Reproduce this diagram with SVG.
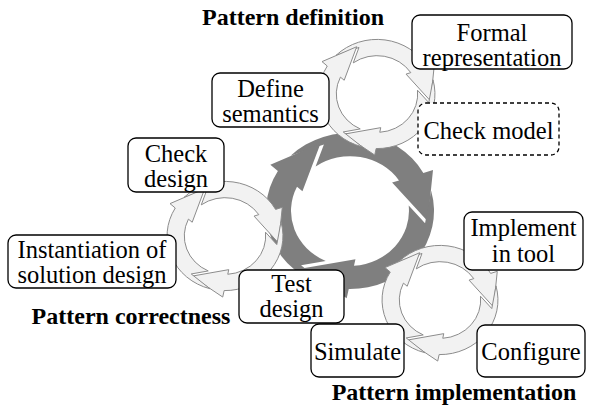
<svg xmlns="http://www.w3.org/2000/svg" width="593" height="410" viewBox="0 0 593 410">
<style>
.box{fill:#fff;stroke:#000;stroke-width:1.3}
.dash{stroke-dasharray:4 3}
.lbl{font-family:"Liberation Serif","Times New Roman",serif;font-size:24.5px;fill:#000;text-anchor:middle}
.ttl{font-family:"Liberation Serif","Times New Roman",serif;font-size:24px;font-weight:bold;fill:#000;text-anchor:middle}
.big{fill:#7f7f7f}
.small{fill:#f2f2f2;stroke:#8c8c8c;stroke-width:1}
</style>
<defs>
<path id="arr" vector-effect="non-scaling-stroke" d="M -59.4 -59.4 A 84 84 0 0 1 73.35 -40.9 L 83 -44.1 L 77.7 10.9 L 42.1 -30.6 L 49 -32.9 A 59 59 0 0 0 -34.4 -47.9 L -26.1 -71.6 Z"/>
</defs>
<rect width="593" height="410" fill="#fff"/>
<g id="connectors">
<g id="cycle-main" class="big" transform="translate(350,211) scale(1,0.93)">
<use href="#arr"/><use href="#arr" transform="rotate(120)"/><use href="#arr" transform="rotate(240)"/>
</g>
<g id="cycle-definition" class="small" transform="translate(377,94) scale(0.69,0.65)">
<use href="#arr"/><use href="#arr" transform="rotate(120)"/><use href="#arr" transform="rotate(240)"/>
</g>
<g id="cycle-correctness" class="small" transform="translate(225,236) scale(0.69,0.65)">
<use href="#arr"/><use href="#arr" transform="rotate(120)"/><use href="#arr" transform="rotate(240)"/>
</g>
<g id="cycle-implementation" class="small" transform="translate(440,300) scale(0.69,0.65)">
<use href="#arr"/><use href="#arr" transform="rotate(120)"/><use href="#arr" transform="rotate(240)"/>
</g>
</g>
<g id="title-definition"><text class="ttl" x="293" y="25">Pattern definition</text></g>
<g id="title-correctness"><text class="ttl" x="131" y="324">Pattern correctness</text></g>
<g id="title-implementation"><text class="ttl" x="454" y="400">Pattern implementation</text></g>
<g id="n-formal"><rect class="box" x="412" y="15" width="160" height="54" rx="8"/><text class="lbl" x="492" y="41">Formal</text><text class="lbl" x="492" y="66">representation</text></g>
<g id="n-define"><rect class="box" x="212" y="73" width="117" height="54" rx="8"/><text class="lbl" x="270.5" y="97">Define</text><text class="lbl" x="270.5" y="122">semantics</text></g>
<g id="n-checkmodel"><rect class="box dash" x="418" y="103" width="141" height="52" rx="8"/><text class="lbl" x="488.5" y="139">Check model</text></g>
<g id="n-checkdesign"><rect class="box" x="128" y="138" width="96" height="54" rx="8"/><text class="lbl" x="176" y="162">Check</text><text class="lbl" x="176" y="187">design</text></g>
<g id="n-instantiation"><rect class="box" x="8" y="235" width="168" height="53" rx="8"/><text class="lbl" x="92" y="258">Instantiation of</text><text class="lbl" x="92" y="283">solution design</text></g>
<g id="n-test"><rect class="box" x="239" y="270" width="105" height="53" rx="8"/><text class="lbl" x="291.5" y="292">Test</text><text class="lbl" x="291.5" y="317">design</text></g>
<g id="n-implement"><rect class="box" x="464" y="212" width="119" height="58" rx="8"/><text class="lbl" x="523.5" y="236">Implement</text><text class="lbl" x="523.5" y="262">in tool</text></g>
<g id="n-simulate"><rect class="box" x="311" y="324" width="93" height="53" rx="8"/><text class="lbl" x="357.5" y="360">Simulate</text></g>
<g id="n-configure"><rect class="box" x="477" y="325" width="108" height="52" rx="8"/><text class="lbl" x="531" y="360">Configure</text></g>
</svg>
